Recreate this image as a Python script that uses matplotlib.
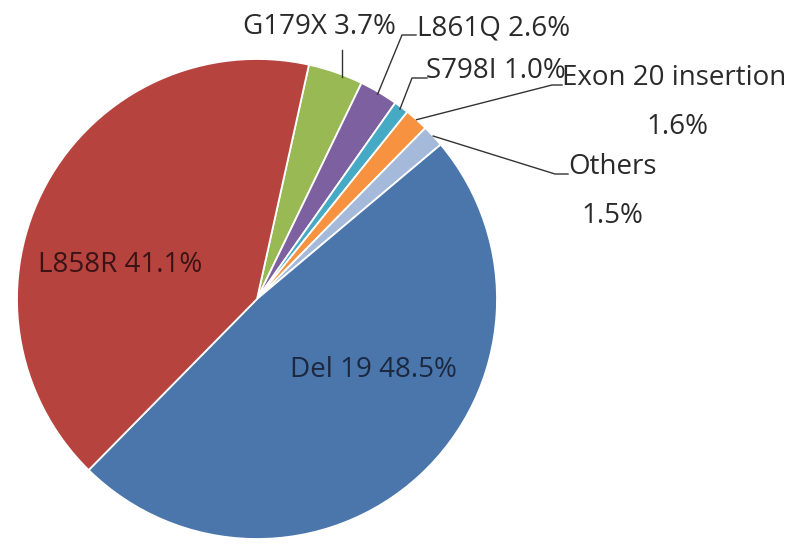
import numpy as np
import matplotlib.pyplot as plt

plt.rcParams['font.family'] = ['Open Sans', 'DejaVu Sans']

labels = ["G179X", "L861Q", "S798I", "Exon 20 insertion", "Others", "Del 19", "L858R"]
values = [3.7, 2.6, 1.0, 1.6, 1.5, 48.5, 41.1]
colors = ["#98B954", "#7D60A0", "#46AAC5", "#F69240", "#A5B9DA", "#4A76AC", "#B7433F"]

W, H = 796, 550
cx, cy, R = 257, 299, 240

fig = plt.figure(figsize=(W / 100, H / 100), dpi=100)
ax = fig.add_axes([(cx - R) / W, (H - cy - R) / H, 2 * R / W, 2 * R / H])
wedges, _ = ax.pie(values, colors=colors, startangle=77.5, counterclock=False,
                   wedgeprops=dict(edgecolor="white", linewidth=1.3))
ax.set_xlim(-1, 1)
ax.set_ylim(-1, 1)
ax.set_aspect("equal")
ax.axis("off")


def px(x, y):
    # pixel position -> data coords
    return (x - cx) / R, (cy - y) / R


def rim(w, r=1.0):
    a = np.deg2rad((w.theta1 + w.theta2) / 2)
    return r * np.cos(a), r * np.sin(a)


fs = 20
tc = "#2a2a2a"
# inside labels
ax.text(*px(373, 370), f"{labels[5]} {values[5]}%", fontsize=fs, color="#1B2840",
        ha="center", va="center")
ax.text(*px(120, 265), f"{labels[6]} {values[6]}%", fontsize=fs, color="#3A1414",
        ha="center", va="center")

lk = dict(color="#333333", lw=1.0, clip_on=False)

# G179X - vertical leader
p = px(342, 50)
ax.plot([p[0], p[0]], [np.sqrt(1 - p[0] ** 2) - 0.01, p[1]], **lk)
ax.text(*px(319, 27), f"{labels[0]} {values[0]}%", fontsize=fs, color=tc,
        ha="center", va="center")

# L861Q
s = rim(wedges[1], 0.99)
pts = [s, px(402, 35), px(416, 35)]
ax.plot([q[0] for q in pts], [q[1] for q in pts], **lk)
ax.text(*px(417, 28), f"{labels[1]} {values[1]}%", fontsize=fs, color=tc,
        ha="left", va="center")

# S798I
s = rim(wedges[2], 0.99)
pts = [s, px(412, 78), px(427, 78)]
ax.plot([q[0] for q in pts], [q[1] for q in pts], **lk)
ax.text(*px(426, 71), f"{labels[2]} {values[2]}%", fontsize=fs, color=tc,
        ha="left", va="center")

# Exon 20 insertion
s = rim(wedges[3], 1.0)
pts = [s, px(552, 85), px(562, 85)]
ax.plot([q[0] for q in pts], [q[1] for q in pts], **lk)
ax.text(*px(562, 78), labels[3], fontsize=fs, color=tc, ha="left", va="center")
ax.text(*px(677, 127), f"{values[3]}%", fontsize=fs, color=tc, ha="center", va="center")

# Others
s = rim(wedges[4], 1.0)
pts = [s, px(555, 174), px(568, 174)]
ax.plot([q[0] for q in pts], [q[1] for q in pts], **lk)
ax.text(*px(612, 167), labels[4], fontsize=fs, color=tc, ha="center", va="center")
ax.text(*px(612, 216), f"{values[4]}%", fontsize=fs, color=tc, ha="center", va="center")

fig.savefig("out.png", dpi=100, facecolor="white")
